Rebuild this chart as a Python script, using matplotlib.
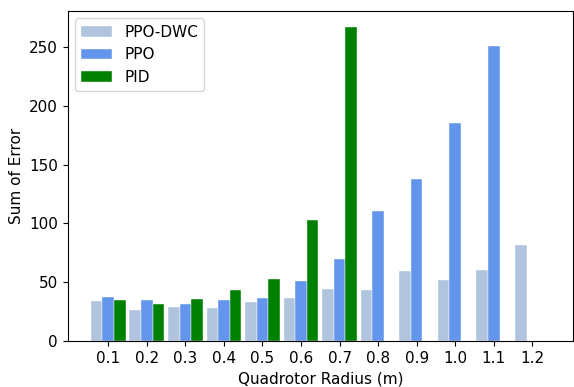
import matplotlib
matplotlib.use("Agg")
import matplotlib.pyplot as plt
import numpy as np

radii = ["0.1", "0.2", "0.3", "0.4", "0.5", "0.6", "0.7", "0.8", "0.9", "1.0", "1.1", "1.2"]
ppo_dwc = [33.8, 26.1, 28.6, 28.0, 33.2, 36.6, 44.0, 43.4, 59.5, 51.6, 60.1, 81.9]
ppo = [37.4, 34.9, 31.5, 34.9, 36.6, 51.0, 69.5, 110.3, 138.0, 185.6, 250.6, 0]
pid = [35.1, 31.5, 35.7, 43.1, 52.7, 103.2, 267.4, 0, 0, 0, 0, 0]

plt.rcParams["font.size"] = 11
fig = plt.figure(figsize=(5.74, 3.87), dpi=100)
ax = fig.add_axes([0.118, 0.119, 0.880, 0.853])
x = np.arange(len(radii))
w = 0.3
ax.bar(x - w, ppo_dwc, w, color="lightsteelblue", label="PPO-DWC", edgecolor="white", linewidth=0.3)
ax.bar(x, ppo, w, color="cornflowerblue", label="PPO", edgecolor="white", linewidth=0.3)
ax.bar(x + w, pid, w, color="green", label="PID", edgecolor="white", linewidth=0.3)
ax.set_xticks(x)
ax.set_xticklabels(radii)
ax.set_xlim(-1.05, 12.05)
ax.set_xlabel("Quadrotor Radius (m)")
ax.set_ylabel("Sum of Error")
ax.legend(loc="upper left")
fig.savefig("out.png", dpi=100)
